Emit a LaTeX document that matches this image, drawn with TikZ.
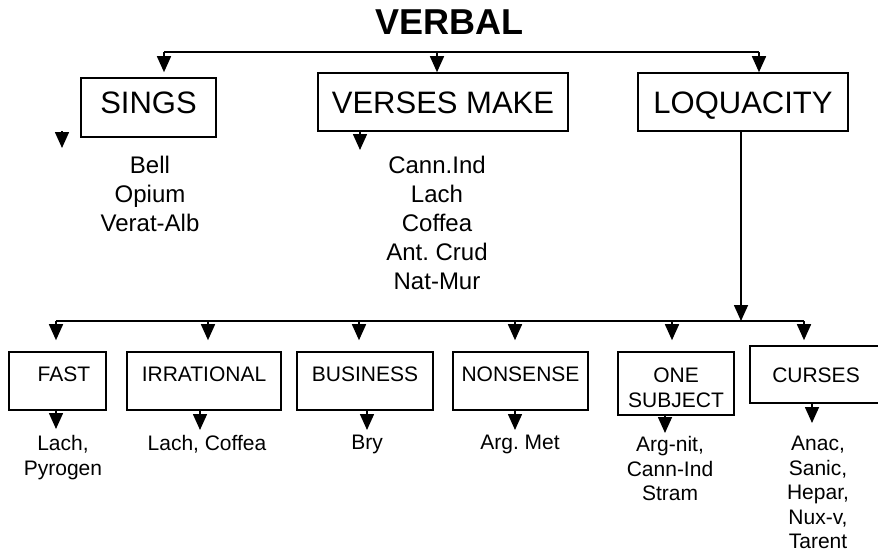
\documentclass[tikz,border=0pt]{standalone}
\usepackage{fontspec}
\setmainfont{Liberation Sans}
\usetikzlibrary{arrows.meta}
\frenchspacing
\begin{document}
\frenchspacing
\begin{tikzpicture}[x=1pt,y=-1pt, line width=1.6pt,
 arr/.style={-{Triangle[length=16pt,width=14pt]}},
 topbox/.style={draw, inner sep=0pt, font=\fontsize{31}{37}\selectfont, text height=22pt, text depth=0pt},
 bbox/.style={draw, inner sep=0pt, font=\fontsize{21}{25}\selectfont, text height=15pt, text depth=14pt},
 list/.style={anchor=north, inner sep=0pt, align=center, font=\fontsize{24}{29}\selectfont},
 slist/.style={anchor=north, inner sep=0pt, align=center, font=\fontsize{21}{24.5}\selectfont}]
\useasboundingbox (0,0) rectangle (878,557);

% title and first level
\node[inner sep=0pt, font=\fontsize{36}{43}\selectfont\bfseries] (title) at (449,22) {VERBAL};
\node[topbox, minimum width=135pt, minimum height=59pt, text depth=11pt] (sings) at (148.5,107.5) {SINGS};
\node[topbox, minimum width=250pt, minimum height=58pt] (verses) at (443,102) {VERSES MAKE};
\node[topbox, minimum width=210pt, minimum height=58pt] (loq) at (743,102) {LOQUACITY};

\coordinate (t1) at (164,52);
\coordinate (t2) at (437,52);
\coordinate (t3) at (759,52);
\draw (t1) -- (t3);
\draw[arr, shorten >=5pt] (t1) -- (t1 |- sings.north);
\draw[arr] (t2) -- (t2 |- verses.north);
\draw[arr] (t3) -- (t3 |- loq.north);

\coordinate (a0) at (62,131);
\coordinate (a0e) at (62,148);
\draw[arr] (a0) -- (a0e);
\coordinate (vx) at (360,150);
\draw[arr] (vx |- verses.south) -- (vx);

\node[list] (singsl) at (150,155) {Bell\\Opium\\Verat-Alb};
\node[list] (versesl) at (437,155) {Cann.Ind\\Lach\\Coffea\\Ant. Crud\\Nat-Mur};

% second level
\coordinate (b0) at (741,321);
\draw[arr] (loq.south -| b0) -- (b0);
\coordinate (bl) at (56,321);
\coordinate (b2) at (208,321);
\coordinate (b3) at (359,321);
\coordinate (b4) at (515,321);
\coordinate (b5) at (672,321);
\coordinate (br) at (804,321);
\draw (bl) -- (br);

\node[bbox, minimum width=97pt, minimum height=58pt] (fast) at (57.5,381) {\hspace*{13pt}FAST};
\node[bbox, minimum width=154pt, minimum height=58pt] (irr) at (204,381) {IRRATIONAL};
\node[bbox, minimum width=136pt, minimum height=58pt] (bus) at (365,381) {BUSINESS};
\node[bbox, minimum width=135pt, minimum height=58pt] (non) at (520.5,381) {NONSENSE};
\node[draw, inner sep=0pt, font=\fontsize{21}{25}\selectfont, align=center, minimum width=116pt, minimum height=63pt] (one) at (676,383.5) {\rule{0pt}{23pt}ONE\\SUBJECT};
\node[bbox, minimum width=132pt, minimum height=57pt, text depth=0pt] (cur) at (816,374.5) {CURSES};

\draw[arr, shorten >=11pt] (bl) -- (bl |- fast.north);
\draw[arr, shorten >=11pt] (b2) -- (b2 |- irr.north);
\draw[arr, shorten >=11pt] (b3) -- (b3 |- bus.north);
\draw[arr, shorten >=11pt] (b4) -- (b4 |- non.north);
\draw[arr, shorten >=11pt] (b5) -- (b5 |- one.north);
\draw[arr, shorten >=5pt] (br) -- (br |- cur.north);

\coordinate (fa) at (56,429);
\coordinate (ia) at (200,430);
\coordinate (ba) at (367,430);
\coordinate (na) at (515,430);
\coordinate (oa) at (665,433);
\coordinate (ca) at (812,423);
\draw[arr] (fa |- fast.south) -- (fa);
\draw[arr] (ia |- irr.south) -- (ia);
\draw[arr] (ba |- bus.south) -- (ba);
\draw[arr] (na |- non.south) -- (na);
\draw[arr] (oa |- one.south) -- (oa);
\draw[arr] (ca |- cur.south) -- (ca);

\node[slist] (fastl) at (63,434.5) {Lach,\\Pyrogen};
\node[slist] (irrl) at (207,434.5) {Lach, Coffea};
\node[slist] (busl) at (367,434.5) {Bry};
\node[slist] (nonl) at (520,434.5) {Arg. Met};
\node[slist] (onel) at (670,435.5) {Arg-nit,\\Cann-Ind\\Stram};
\node[slist] (curl) at (818,435.5) {Anac,\\Sanic,\\Hepar,\\Nux-v,\\Tarent};
\end{tikzpicture}
\end{document}
